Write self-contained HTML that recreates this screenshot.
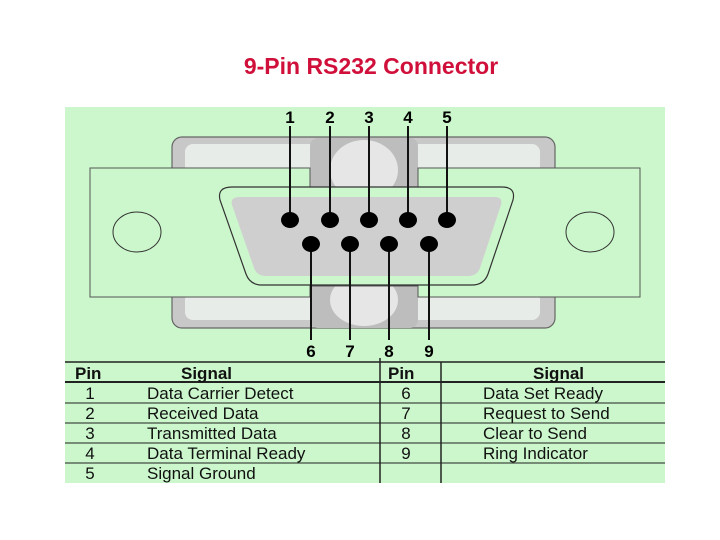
<!DOCTYPE html>
<html><head><meta charset="utf-8"><style>
body{margin:0;width:720px;height:540px;background:#fff;overflow:hidden;font-family:"Liberation Sans",sans-serif;}
.t{position:absolute;top:53px;left:0;width:742px;text-align:center;color:#d0103a;font-size:23px;font-weight:bold;}
</style></head><body>
<div class="t">9-Pin RS232 Connector</div>
<svg style="position:absolute;left:0;top:0" width="720" height="540" font-family="Liberation Sans, sans-serif">
<rect x="65" y="107" width="600" height="376" fill="#ccf7cc"/>
<rect x="172" y="137" width="383" height="55" rx="10" fill="#c8c8c8" stroke="#666" stroke-width="1.2"/>
<rect x="185" y="144" width="355" height="30" rx="8" fill="#e8ece8"/>
<rect x="172" y="280" width="383" height="48" rx="10" fill="#c8c8c8" stroke="#666" stroke-width="1.2"/>
<rect x="185" y="292" width="355" height="28" rx="8" fill="#e8ece8"/>
<rect x="310" y="138" width="108" height="55" rx="8" fill="#bdbdbd"/>
<ellipse cx="364" cy="170" rx="34" ry="30" fill="#e6e6e6"/>
<rect x="310" y="280" width="108" height="48" rx="8" fill="#bdbdbd"/>
<ellipse cx="364" cy="300" rx="34" ry="26" fill="#e6e6e6"/>
<path d="M90 168 H310 V195 H418 V168 H640 V297 H418 V286 H310 V297 H90 Z" fill="#ccf7cc" stroke="#555" stroke-width="1"/>
<ellipse cx="137" cy="232" rx="24" ry="20" fill="#ccf7cc" stroke="#333" stroke-width="1"/>
<ellipse cx="590" cy="232" rx="24" ry="20" fill="#ccf7cc" stroke="#333" stroke-width="1"/>
<path d="M232 187 H502 Q516 187 513 200 L488 274 Q484 285 472 285 H262 Q250 285 246 274 L220 200 Q217 187 232 187 Z" fill="#ccf7cc" stroke="#333" stroke-width="1.2"/>
<path d="M240 197 H495 Q503 197 501 205 L480 268 Q477 276 468 276 H266 Q257 276 254 268 L232 205 Q230 197 240 197 Z" fill="#cfcfcf"/>
<g stroke="#111" stroke-width="2">
<line x1="290" y1="126" x2="290" y2="218"/><line x1="330" y1="126" x2="330" y2="218"/><line x1="369" y1="126" x2="369" y2="218"/><line x1="408" y1="126" x2="408" y2="218"/><line x1="447" y1="126" x2="447" y2="218"/>
<line x1="311" y1="246" x2="311" y2="340"/><line x1="350" y1="246" x2="350" y2="340"/><line x1="389" y1="246" x2="389" y2="340"/><line x1="429" y1="246" x2="429" y2="340"/>
</g>
<g fill="#000">
<ellipse cx="290" cy="220" rx="9" ry="8"/><ellipse cx="330" cy="220" rx="9" ry="8"/><ellipse cx="369" cy="220" rx="9" ry="8"/><ellipse cx="408" cy="220" rx="9" ry="8"/><ellipse cx="447" cy="220" rx="9" ry="8"/>
<ellipse cx="311" cy="244" rx="9" ry="8"/><ellipse cx="350" cy="244" rx="9" ry="8"/><ellipse cx="389" cy="244" rx="9" ry="8"/><ellipse cx="429" cy="244" rx="9" ry="8"/>
</g>
<g font-size="17" font-weight="bold" text-anchor="middle" fill="#000">
<text x="290" y="123">1</text><text x="330" y="123">2</text><text x="369" y="123">3</text><text x="408" y="123">4</text><text x="447" y="123">5</text>
<text x="311" y="357">6</text><text x="350" y="357">7</text><text x="389" y="357">8</text><text x="429" y="357">9</text>
</g>
<g stroke="#222">
<line x1="65" y1="362" x2="665" y2="362" stroke-width="1.5"/>
<line x1="65" y1="382" x2="665" y2="382" stroke-width="2"/>
<line x1="65" y1="403" x2="665" y2="403"/>
<line x1="65" y1="423" x2="665" y2="423"/>
<line x1="65" y1="443" x2="665" y2="443"/>
<line x1="65" y1="463" x2="665" y2="463"/>
<line x1="380" y1="358" x2="380" y2="483" stroke-width="1.5"/>
<line x1="441" y1="362" x2="441" y2="483" stroke-width="1.5"/>
</g>
<g font-size="17" fill="#111">
<text x="75" y="379" font-weight="bold">Pin</text>
<text x="181" y="379" font-weight="bold">Signal</text>
<text x="388" y="379" font-weight="bold">Pin</text>
<text x="533" y="379" font-weight="bold">Signal</text>
<g text-anchor="middle">
<text x="90" y="399">1</text><text x="90" y="419">2</text><text x="90" y="439">3</text><text x="90" y="459">4</text><text x="90" y="479">5</text>
<text x="406" y="399">6</text><text x="406" y="419">7</text><text x="406" y="439">8</text><text x="406" y="459">9</text>
</g>
<text x="147" y="399">Data Carrier Detect</text>
<text x="147" y="419">Received Data</text>
<text x="147" y="439">Transmitted Data</text>
<text x="147" y="459">Data  Terminal Ready</text>
<text x="147" y="479">Signal Ground</text>
<text x="483" y="399">Data Set Ready</text>
<text x="483" y="419">Request to Send</text>
<text x="483" y="439">Clear to Send</text>
<text x="483" y="459">Ring Indicator</text>
</g>
</svg>
</body></html>
